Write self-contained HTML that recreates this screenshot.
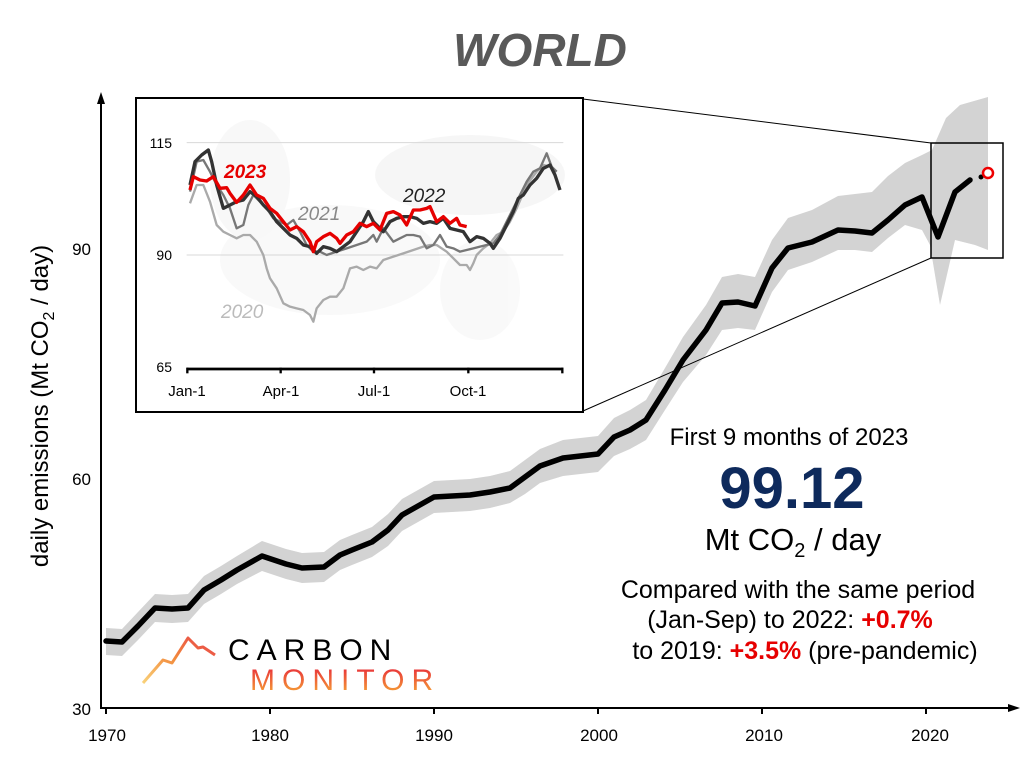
<!DOCTYPE html>
<html><head><meta charset="utf-8"><style>
body{margin:0;background:#fff;}
svg{display:block;font-family:"Liberation Sans",Arial,sans-serif;}
</style></head><body>
<svg width="1024" height="780" viewBox="0 0 1024 780" xmlns="http://www.w3.org/2000/svg">
<defs>
<linearGradient id="mg" x1="0" y1="0" x2="0" y2="1"><stop offset="0.1" stop-color="#e8303a"/><stop offset="1" stop-color="#f7b035"/></linearGradient>
<linearGradient id="lg" x1="0" y1="1" x2="1" y2="0"><stop offset="0" stop-color="#f9d27a"/><stop offset="0.5" stop-color="#f28a3c"/><stop offset="1" stop-color="#e8404a"/></linearGradient>
</defs>
<text x="540" y="66" text-anchor="middle" font-size="46" font-weight="bold" font-style="italic" fill="#595959">WORLD</text>

<polygon fill="#d3d3d3" points="106,628 122,629 138,612 155,594 172,595 188,594 204,576 221,566 237,556 262,541 286,549 302,553 324,552 340,540 352,535 372,527 388,514 402,499 418,490 434,481 470,479 490,476 510,471 525,460 540,449 563,440 598,436 614,418 630,410 646,400 665,368 683,337 706,305 722,277 738,274 755,277 772,240 788,218 812,210 838,196 855,194 872,192 888,176 905,163 922,155 932,150 946,118 960,105 988,97 988,250 975,245 955,240 940,305 930,245 922,230 905,225 888,238 872,252 855,250 838,250 812,262 788,270 772,292 755,330 738,328 722,330 706,355 683,382 665,410 646,440 630,449 614,456 598,472 563,476 540,483 525,494 510,503 490,508 470,511 434,513 418,522 402,531 388,546 372,557 352,565 340,570 324,582 302,583 286,579 262,571 237,584 221,594 204,604 188,622 172,623 155,622 138,640 122,656 106,655"/>
<polyline fill="none" stroke="#000" stroke-width="5.5" stroke-linejoin="round" stroke-linecap="round" points="106,641 122,642 138,626 155,608 172,609 188,608 204,590 221,580 237,570 262,556 286,564 302,568 324,567 340,555 352,550 372,542 388,530 402,515 418,506 434,497 470,495 490,492 510,488 525,477 540,466 563,458 598,454 614,437 630,430 646,420 665,390 683,360 706,330 722,303 738,302 755,306 772,268 788,248 812,242 838,230 855,231 872,233 888,220 905,205 922,197 938,237 955,192 970,180"/>
<circle cx="981" cy="177" r="2.5" fill="#000"/>
<circle cx="988" cy="173" r="5" fill="#fff" stroke="#e00" stroke-width="2.5"/>

<rect x="931" y="143" width="72" height="115" fill="none" stroke="#000" stroke-width="1.5"/>
<line x1="583" y1="99" x2="931" y2="143" stroke="#000" stroke-width="1"/>
<line x1="583" y1="411" x2="931" y2="258" stroke="#000" stroke-width="1"/>

<line x1="101" y1="100" x2="101" y2="708" stroke="#000" stroke-width="2"/>
<polygon points="101,92 97,104 105,104" fill="#000"/>
<line x1="100" y1="708" x2="1012" y2="708" stroke="#000" stroke-width="2"/>
<polygon points="1020,708 1008,704 1008,712" fill="#000"/>
<g stroke="#000" stroke-width="2">
<line x1="106" y1="708" x2="106" y2="714"/><line x1="270" y1="708" x2="270" y2="714"/><line x1="434" y1="708" x2="434" y2="714"/><line x1="598" y1="708" x2="598" y2="714"/><line x1="762" y1="708" x2="762" y2="714"/><line x1="926" y1="708" x2="926" y2="714"/>
</g>
<g font-size="17" text-anchor="middle" fill="#000">
<text x="107" y="741">1970</text><text x="270" y="741">1980</text><text x="434" y="741">1990</text><text x="599" y="741">2000</text><text x="764" y="741">2010</text><text x="930" y="741">2020</text>
</g>
<g font-size="17" text-anchor="end" fill="#000">
<text x="91" y="715">30</text><text x="91" y="485">60</text><text x="91" y="255">90</text>
</g>
<text transform="translate(48,406) rotate(-90)" text-anchor="middle" font-size="24" fill="#000">daily emissions (Mt CO<tspan font-size="16" dy="6">2</tspan><tspan dy="-6"> / day)</tspan></text>

<rect x="136" y="98" width="447" height="314" fill="#fff" stroke="#000" stroke-width="2"/>
<g opacity="0.35">
<ellipse cx="470" cy="175" rx="95" ry="40" fill="#e6e6e6"/>
<ellipse cx="330" cy="260" rx="110" ry="55" fill="#eeeeee"/>
<ellipse cx="250" cy="180" rx="40" ry="60" fill="#ececec"/>
<ellipse cx="480" cy="290" rx="40" ry="50" fill="#f0f0f0"/>
</g>
<g transform="translate(130,95) scale(0.33333)" fill="none" stroke-linejoin="round">
<line x1="170" y1="143" x2="1300" y2="143" stroke="#d8d8d8" stroke-width="3"/>
<line x1="170" y1="480" x2="1300" y2="480" stroke="#d8d8d8" stroke-width="3"/>
<polyline stroke="#aaa" stroke-width="7" points="180,325 200,270 220,270 240,320 260,390 280,410 300,420 320,430 340,420 360,420 380,440 400,480 410,520 420,550 440,580 460,625 480,635 500,640 520,645 540,660 550,680 555,660 560,640 580,615 600,605 620,605 640,580 660,520 680,515 700,525 720,515 740,520 760,495 790,485 820,475 850,465 880,455 900,450 920,450 950,470 970,490 990,510 1010,510 1020,525 1030,505 1040,480 1060,460 1080,445 1100,420 1120,410 1140,380 1160,340 1190,270 1220,230 1240,210 1260,215 1280,230"/>
<polyline stroke="#777" stroke-width="7" points="180,290 200,200 220,195 240,230 260,270 280,300 300,340 320,400 340,390 355,330 370,300 390,320 410,340 430,370 450,380 470,390 490,375 510,410 530,450 550,470 570,470 590,480 620,470 650,460 680,450 710,440 730,420 740,440 760,400 790,440 810,430 830,420 850,420 870,425 890,460 910,450 930,420 950,455 970,460 990,470 1010,465 1030,460 1050,455 1070,450 1090,445 1110,420 1130,380 1150,340 1170,300 1190,260 1210,230 1230,220 1250,175 1265,215 1280,230"/>
<polyline stroke="#333" stroke-width="10" points="180,270 195,200 215,180 235,165 245,200 260,270 280,340 300,330 320,320 340,315 360,290 380,305 400,330 420,350 440,380 460,400 480,420 500,430 520,450 540,455 560,475 580,455 600,460 620,470 640,455 660,440 680,410 700,380 715,350 730,380 745,395 760,410 780,380 800,370 820,365 840,365 860,370 880,385 900,380 920,385 940,370 960,400 980,405 1000,410 1020,440 1040,425 1060,430 1080,445 1090,460 1110,430 1130,390 1150,350 1165,310 1180,300 1200,270 1220,250 1240,220 1260,210 1275,240 1290,285"/>
<polyline stroke="#e60000" stroke-width="10" points="180,285 190,245 210,255 230,258 250,245 270,280 290,278 300,295 320,322 340,300 360,270 380,300 400,310 420,340 440,355 460,380 480,405 500,395 520,410 540,440 550,470 560,440 580,425 600,415 620,430 630,445 650,420 670,410 690,385 710,395 730,385 750,405 770,355 790,350 810,360 830,390 850,345 870,345 890,340 900,335 920,380 940,365 960,385 980,370 990,390 1010,395"/>
<line x1="170" y1="822" x2="1300" y2="822" stroke="#000" stroke-width="8"/>
<g stroke="#000" stroke-width="7"><line x1="172" y1="818" x2="172" y2="835"/><line x1="452" y1="818" x2="452" y2="835"/><line x1="732" y1="818" x2="732" y2="835"/><line x1="1015" y1="818" x2="1015" y2="835"/><line x1="1297" y1="818" x2="1297" y2="835"/></g>
</g>
<g font-size="14" fill="#000" text-anchor="end">
<text x="172" y="148">115</text><text x="172" y="260">90</text><text x="172" y="372">65</text>
</g>
<g font-size="15" fill="#000" text-anchor="middle">
<text x="187" y="396">Jan-1</text><text x="281" y="396">Apr-1</text><text x="374" y="396">Jul-1</text><text x="468" y="396">Oct-1</text>
</g>
<text x="224" y="178" font-size="19" font-weight="bold" font-style="italic" fill="#e60000">2023</text>
<text x="403" y="202" font-size="19" font-style="italic" fill="#222">2022</text>
<text x="298" y="220" font-size="19" font-style="italic" fill="#888">2021</text>
<text x="221" y="318" font-size="19" font-style="italic" fill="#bbb">2020</text>

<text x="789" y="445" text-anchor="middle" font-size="24" fill="#000">First 9 months of 2023</text>
<text x="792" y="508" text-anchor="middle" font-size="58" font-weight="bold" fill="#0e2a5c">99.12</text>
<text x="793" y="550" text-anchor="middle" font-size="31" fill="#000">Mt CO<tspan font-size="20" dy="7">2</tspan><tspan dy="-7"> / day</tspan></text>
<text x="798" y="598" text-anchor="middle" font-size="25" fill="#000">Compared with the same period</text>
<text x="790" y="628" text-anchor="middle" font-size="25" fill="#000">(Jan-Sep) to 2022: <tspan fill="#e60000" font-weight="bold">+0.7%</tspan></text>
<text x="805" y="659" text-anchor="middle" font-size="25" fill="#000">to 2019: <tspan fill="#e60000" font-weight="bold">+3.5%</tspan> (pre-pandemic)</text>

<polyline fill="none" stroke="url(#lg)" stroke-width="3" stroke-linejoin="round" points="143,683 163,660 172,663 188,638 198,648 203,647 215,655"/>
<text x="228" y="660" font-size="30" fill="#000" letter-spacing="7">CARBON</text>
<text x="250" y="690" font-size="30" fill="url(#mg)" letter-spacing="7">MONITOR</text>
</svg>
</body></html>
